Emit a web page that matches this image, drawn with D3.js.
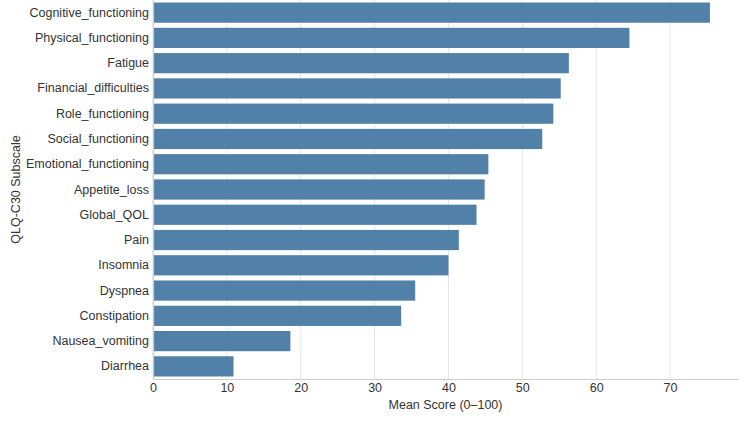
<!DOCTYPE html>
<html>
<head>
<meta charset="utf-8">
<script src="https://cdn.jsdelivr.net/npm/d3@7"></script>
<style>
  body { margin: 0; background: #fff; }
  text { font-family: "Liberation Sans", Arial, sans-serif; fill: #333; }
</style>
</head>
<body>
<div id="container"></div>
<script>
// Data
const subscales = ["Cognitive_functioning", "Physical_functioning", "Fatigue", "Financial_difficulties",
  "Role_functioning", "Social_functioning", "Emotional_functioning", "Appetite_loss", "Global_QOL",
  "Pain", "Insomnia", "Dyspnea", "Constipation", "Nausea_vomiting", "Diarrhea"];
const meanScores = [75.4, 64.5, 56.3, 55.2, 54.2, 52.7, 45.4, 44.9, 43.8, 41.4, 40.0, 35.5, 33.6, 18.6, 10.9];
const xTicks = [0, 10, 20, 30, 40, 50, 60, 70];

const margin = { top: 0, right: 12, bottom: 43, left: 153 };
const width = 750 - margin.left - margin.right;
const height = 422 - margin.top - margin.bottom;

const svg = d3.select("#container").append("svg")
  .attr("width", 750)
  .attr("height", 422)
  .append("g")
  .attr("transform", `translate(${margin.left},${margin.top})`);

const x = d3.scaleLinear().domain([0, 79.2]).range([0, width]);
const y = d3.scaleBand().domain(subscales).range([0, height])
  .paddingInner(0.2).paddingOuter(0.1);

// vertical grid
svg.append("g")
  .selectAll("line")
  .data(xTicks)
  .enter()
  .append("line")
  .attr("x1", d => x(d)).attr("x2", d => x(d))
  .attr("y1", 0).attr("y2", height)
  .attr("stroke", "#e5e5e5")
  .attr("stroke-width", 1);

// bars
svg.selectAll("rect.bar")
  .data(subscales)
  .enter()
  .append("rect")
  .attr("class", "bar")
  .attr("x", x(0))
  .attr("y", d => y(d))
  .attr("width", (d, i) => x(meanScores[i]) - x(0))
  .attr("height", y.bandwidth())
  .attr("fill", "#5181a8");

// x axis
const xAxis = svg.append("g")
  .attr("transform", `translate(0,${height})`)
  .call(d3.axisBottom(x).tickValues(xTicks).tickSize(0).tickPadding(4));
xAxis.select(".domain").attr("stroke", "#cccccc").attr("stroke-width", 1.2);
xAxis.selectAll("text").style("font-size", "12.5px").style("fill", "#333");

// y axis
const yAxis = svg.append("g")
  .call(d3.axisLeft(y).tickSize(0).tickPadding(4));
yAxis.select(".domain").attr("stroke", "#cccccc").attr("stroke-width", 1.2);
yAxis.selectAll("text").style("font-size", "12.5px").style("fill", "#333");

// labels
svg.append("text")
  .attr("x", width / 2)
  .attr("y", height + 30)
  .attr("text-anchor", "middle")
  .style("font-size", "12.5px")
  .text("Mean Score (0–100)");

svg.append("text")
  .attr("transform", "rotate(-90)")
  .attr("x", -height / 2)
  .attr("y", -133)
  .attr("text-anchor", "middle")
  .style("font-size", "12.5px")
  .text("QLQ-C30 Subscale");
</script>
</body>
</html>
